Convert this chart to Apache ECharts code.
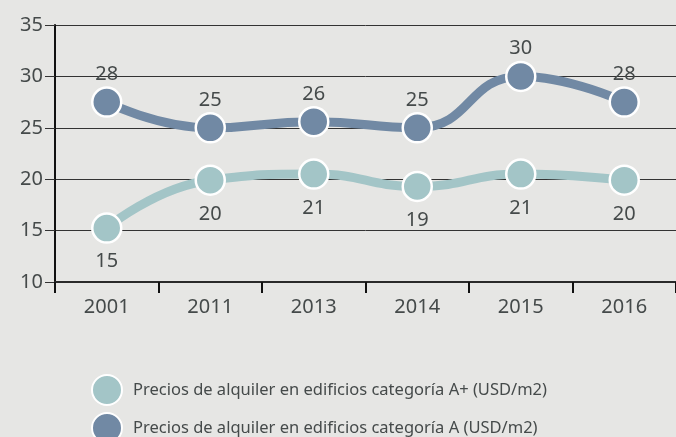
<!DOCTYPE html>
<html>
<head>
<meta charset="utf-8">
<script src="https://cdn.jsdelivr.net/npm/echarts@6/dist/echarts.min.js"></script>
<style>
  html, body { margin: 0; padding: 0; background: #e6e6e4; }
  #chart { width: 676px; height: 437px; }
</style>
</head>
<body>
<div id="chart"></div>
<script>
// datos
const years = ['2001', '2011', '2013', '2014', '2015', '2016']
const precioAPlus = [15.25, 19.9, 20.5, 19.3, 20.5, 19.9]
const precioA = [27.5, 25.0, 25.6, 25.0, 30.0, 27.5]
const nombreAPlus = 'Precios de alquiler en edificios categoría A+ (USD/m2)'
const nombreA = 'Precios de alquiler en edificios categoría A (USD/m2)'

const colorAPlus = '#a3c5c7'
const colorA = '#7189a4'
const textColor = '#454a4a'
const font = 'Noto Sans'

const chart = echarts.init(document.getElementById('chart'))

function serie(name, data, color, labelPos, dist) {
  return {
    name: name,
    type: 'line',
    smooth: 0.5,
    symbol: 'circle',
    symbolSize: 29,
    data: data,
    lineStyle: { width: 9, color: color },
    itemStyle: { color: color, borderColor: '#fff', borderWidth: 2.5 },
    label: {
      show: true,
      position: labelPos,
      distance: dist,
      color: textColor,
      fontFamily: font,
      fontSize: 20,
      formatter: (p) => Math.round(p.value)
    },
    z: 3
  }
}

// una leyenda por fila
function leyenda(nombre, top) {
  return {
    left: 86,
    top: top,
    icon: 'circle',
    itemWidth: 30,
    itemHeight: 30,
    itemStyle: { borderColor: '#fff', borderWidth: 2 },
    textStyle: { color: textColor, fontFamily: font, fontSize: 16.5, padding: [0, 0, 0, 6] },
    data: [nombre]
  }
}

chart.setOption({
  backgroundColor: '#e6e6e4',
  animation: false,
  grid: { left: 55, right: -3, top: 25, bottom: 155 },
  legend: [leyenda(nombreAPlus, 369), leyenda(nombreA, 407)],
  xAxis: {
    type: 'category',
    data: years,
    boundaryGap: true,
    axisLine: { lineStyle: { color: '#2a2a2a', width: 2 } },
    axisTick: { show: true, length: 11, lineStyle: { color: '#111', width: 2 } },
    axisLabel: { color: textColor, fontFamily: font, fontSize: 20, margin: 15 }
  },
  yAxis: {
    type: 'value',
    min: 10,
    max: 35,
    interval: 5,
    axisLine: { show: true, lineStyle: { color: '#111', width: 2 } },
    axisTick: { show: true, length: 10, lineStyle: { color: '#333', width: 1 } },
    splitLine: { lineStyle: { color: '#333', width: 1 } },
    axisLabel: { color: textColor, fontFamily: font, fontSize: 20, margin: 12 }
  },
  series: [
    serie(nombreAPlus, precioAPlus, colorAPlus, 'bottom', 8),
    serie(nombreA, precioA, colorA, 'top', 2)
  ]
})
</script>
</body>
</html>
